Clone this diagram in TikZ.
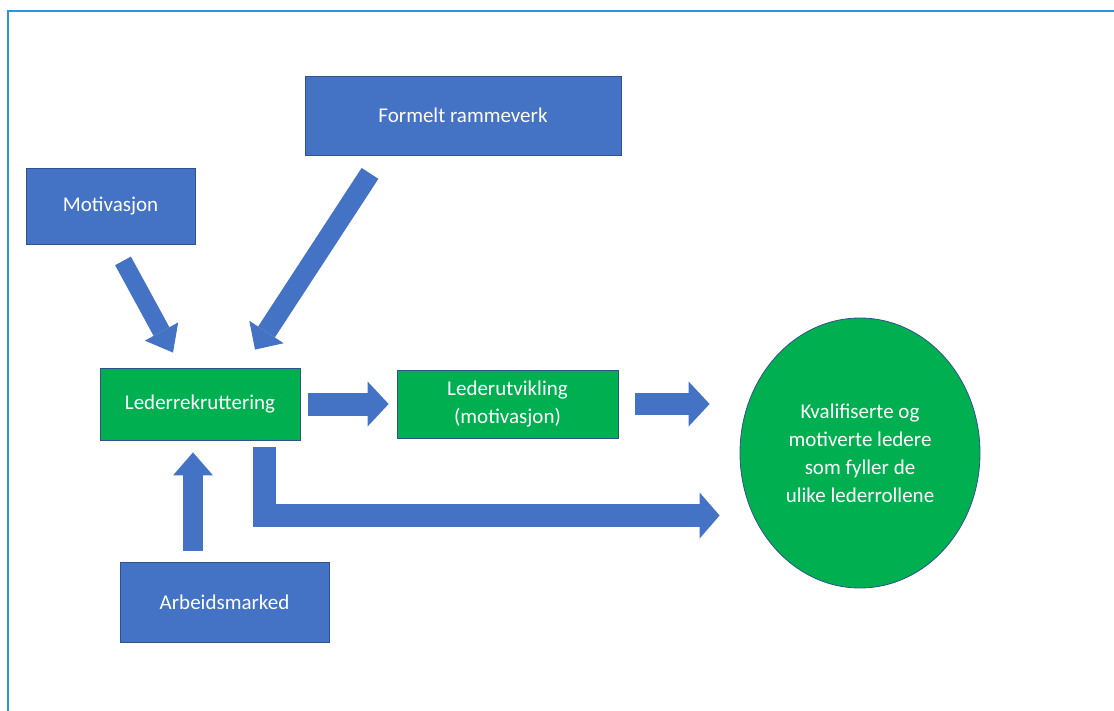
\documentclass[tikz,border=0pt]{standalone}
\usepackage{fontspec}
\setmainfont{Carlito}
\usepackage{tikz}
\usetikzlibrary{shapes.geometric,arrows.meta,calc}
\definecolor{boxblue}{HTML}{4472C4}
\definecolor{boxline}{HTML}{2F528F}
\definecolor{boxgreen}{HTML}{00B050}
\definecolor{framecol}{HTML}{2E96D7}
\tikzstyle{bluebox}=[rectangle, fill=boxblue, draw=boxline, line width=0.8pt, text=white, inner sep=0pt, align=center, font=\fontsize{21}{28}\selectfont]
\tikzstyle{greenbox} = [bluebox, fill=boxgreen]
\tikzstyle{goal} = [greenbox, ellipse]
\tikzstyle{fat} = [draw=boxblue, line width=22pt, -{Triangle[width=45pt, length=21pt, line width=0pt]}]

\begin{document}
\begin{tikzpicture}[x=1pt, y=-1pt]

				\useasboundingbox (0,0) rectangle (1114,711);
				\draw[framecol, line width=2.5pt] (1114,11) -- (8,11) -- (8,711);

				\node[bluebox, minimum width=169pt, minimum height=76pt] (mot) at (110.5, 206) {Motivasjon};
				\node[bluebox, minimum width=316pt, minimum height=79pt] (ram) at (463, 115.5) {Formelt rammeverk};
				\node[greenbox, minimum width=200pt, minimum height=72pt] (rek) at (200, 404) {Lederrekruttering};
				\node[greenbox, minimum width=221pt, minimum height=68pt] (utv) at (507.5, 404) {Lederutvikling\\(motivasjon)};
				\node[bluebox, minimum width=209pt, minimum height=80pt] (arb) at (224.5, 602) {Arbeidsmarked};
				\node[goal, minimum width=240pt, minimum height=270pt] (led) at (860, 453) {Kvalifiserte og\\motiverte ledere\\som fyller de\\ulike lederrollene};

				\draw[fat, line width=18pt, -{Triangle[width=38pt, length=24pt, line width=0pt]}] ($(mot.south)+(12.5,16.5)$) -- ($(rek.north)+(-27,-15)$);
				\draw[fat, line width=20pt, -{Triangle[width=41pt, length=21pt, line width=0pt]}] ($(ram.south)+(-93,18)$) -- ($(rek.north)+(55,-18)$);
				\draw[fat, line width=23pt] (rek.east) -- (utv.west) [shorten <=8pt, shorten >=8pt];
				\draw[fat, shorten <=17pt, shorten >=30pt] (utv.east) -- (utv.east -| led.west);
				\draw[fat, line width=20pt, -{Triangle[width=40pt, length=23pt, line width=0pt]}] ($(arb.north)+(-31.5,-11)$) -- ($(rek.south)+(-7,12)$);
				\draw[fat, line width=23pt, -{Triangle[width=46pt, length=20pt, line width=0pt]}] ($(rek.south)+(64.5,7)$) |- ($(led.west)+(-20,62.5)$);
			\end{tikzpicture}
\end{document}
